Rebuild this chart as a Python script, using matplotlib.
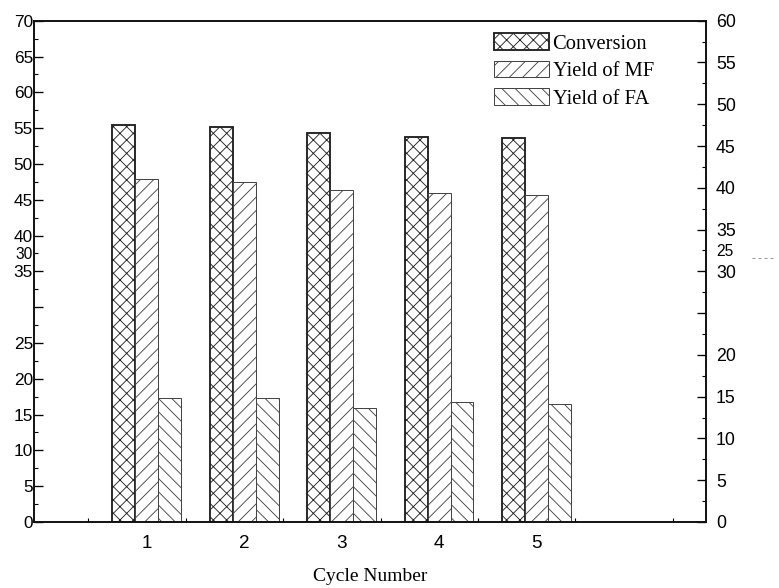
import matplotlib
matplotlib.use("Agg")
import matplotlib.pyplot as plt
from matplotlib.lines import Line2D

# ---- data (left-axis units 0-70) ----
cycles = [1, 2, 3, 4, 5]
cycle_labels = ["1", "2", "3", "4", "5"]
conversion = [55.4, 55.1, 54.35, 53.75, 53.6]
yield_mf = [47.9, 47.5, 46.4, 46.0, 45.7]
yield_fa = [17.3, 17.3, 15.9, 16.7, 16.5]
series_names = ["Conversion", "Yield of MF", "Yield of FA"]

left_major = list(range(0, 75, 5))
left_major_labels = ["" if v == 30 else str(v) for v in left_major]
left_minor = [v + 2.5 for v in range(0, 70, 5)]
left_minor_labels = ["30" if v == 37.5 else "" for v in left_minor]

right_major = list(range(0, 65, 5))
right_major_labels = ["" if v == 25 else str(v) for v in right_major]
right_minor = [v + 2.5 for v in range(0, 60, 5)]
right_minor_labels = ["25" if v == 32.5 else "" for v in right_minor]

x_minor = [0.4, 1.4, 2.4, 3.4, 4.4, 5.4, 6.4]

DPI = 80
plt.rcParams['hatch.linewidth'] = 0.8
fig = plt.figure(figsize=(779 / DPI, 588 / DPI), dpi=DPI)
ax = fig.add_axes([34 / 779, 1 - 522 / 588, (706 - 34) / 779, (522 - 20.7) / 588])

w = 0.235
b1 = ax.bar([c - w for c in cycles], conversion, width=w, facecolor="white",
            edgecolor="#222222", linewidth=1.7, hatch="xx", label=series_names[0])
b2 = ax.bar(cycles, yield_mf, width=w, facecolor="white",
            edgecolor="#444444", linewidth=0.9, hatch="//", label=series_names[1])
b3 = ax.bar([c + w for c in cycles], yield_fa, width=w, facecolor="white",
            edgecolor="#444444", linewidth=0.9, hatch="\\\\", label=series_names[2])

ax.set_xlim(-0.158, 6.74)
ax.set_ylim(0, 70)

sans = "Liberation Sans"
serif = "Liberation Serif"

ax.set_yticks(left_major, labels=left_major_labels)
ax.set_yticks(left_minor, labels=left_minor_labels, minor=True)
ax.tick_params(axis="y", which="major", direction="in", length=8, width=1.2,
               pad=1, labelsize=15.5)
ax.tick_params(axis="y", which="minor", direction="in", length=4, width=1.0,
               pad=1, labelsize=14)
ax.set_xticks(cycles, labels=cycle_labels)
ax.set_xticks(x_minor, minor=True)
ax.tick_params(axis="x", which="major", length=0, pad=12, labelsize=17)
ax.tick_params(axis="x", which="minor", direction="in", length=4, width=1.0)
for t in ax.get_yticklabels(which="both") + ax.get_xticklabels():
    t.set_fontfamily(sans)

ax2 = ax.twinx()
ax2.set_ylim(0, 60)
ax2.set_yticks(right_major, labels=right_major_labels)
ax2.set_yticks(right_minor, labels=right_minor_labels, minor=True)
ax2.tick_params(axis="y", which="major", direction="in", length=8, width=1.2,
                pad=9, labelsize=16)
ax2.tick_params(axis="y", which="minor", direction="in", length=4, width=1.0,
                pad=9, labelsize=14)
for t in ax2.get_yticklabels(which="both"):
    t.set_fontfamily(sans)

for a in (ax, ax2):
    for s in a.spines.values():
        s.set_linewidth(1.5)
        s.set_color("#111111")

ax.set_xlabel("Cycle Number", fontfamily=serif, fontsize=17.5, labelpad=14)

leg = ax.legend(handles=[b1, b2, b3], loc="upper left",
                bbox_to_anchor=(0.6845, 0.975), frameon=False,
                prop={"family": serif, "size": 18.5},
                handlelength=2.7, handleheight=0.85, handletextpad=0.15,
                labelspacing=0.35, borderpad=0, borderaxespad=0)

fig.add_artist(Line2D([752 / 779, 776 / 779], [1 - 258 / 588, 1 - 258 / 588],
                      transform=fig.transFigure, color="#999999",
                      linestyle=(0, (3, 3)), linewidth=0.9))

fig.savefig("out.png", dpi=DPI)
